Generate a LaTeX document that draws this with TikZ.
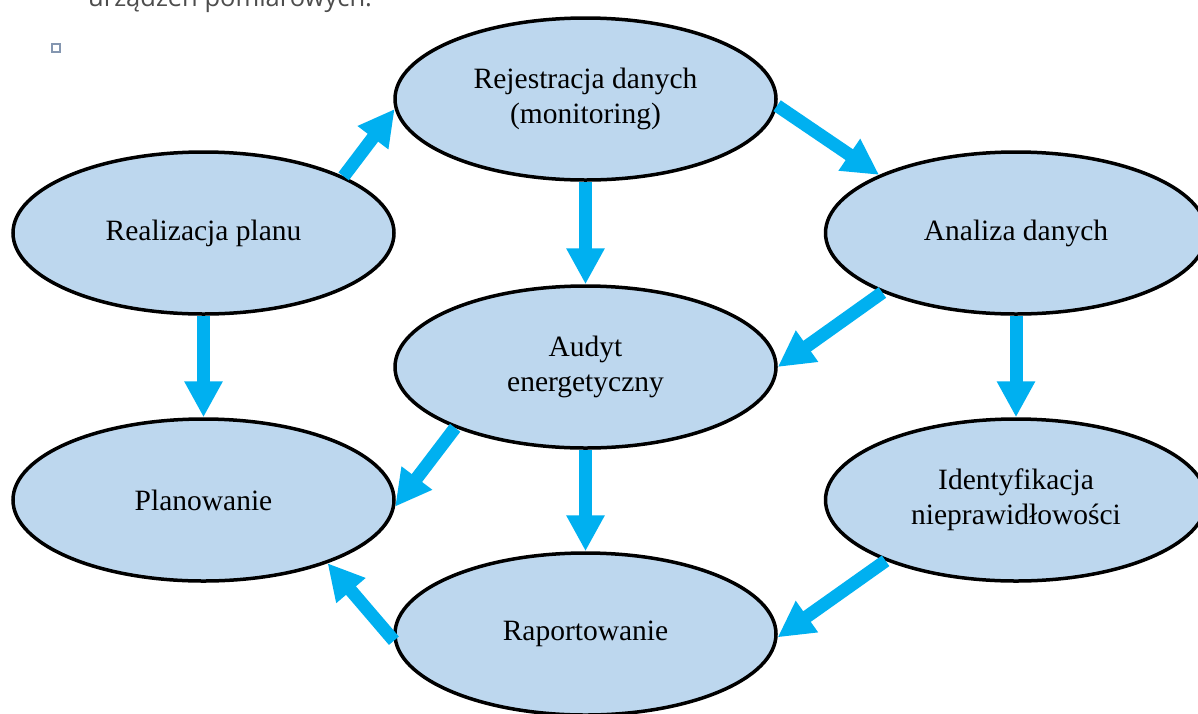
\documentclass[tikz,border=0pt]{standalone}
\usepackage{fontspec}
\setmainfont{Liberation Serif}
\newfontfamily\topfont{Open Sans}
\usetikzlibrary{shapes.geometric,arrows.meta}
\definecolor{ellfill}{HTML}{BDD7EE}
\definecolor{arrowblue}{HTML}{00B0F0}
\definecolor{bulletc}{HTML}{8496B0}
\definecolor{topgray}{HTML}{4D4D4D}
\begin{document}
\begin{tikzpicture}[x=1pt,y=-1pt,
  stage/.style={ellipse, draw=black, line width=3.5pt, fill=ellfill,
    minimum width=381pt, minimum height=162pt, inner sep=0pt,
    align=center, font=\fontsize{29.5}{35}\selectfont, text=black},
  flow/.style={draw=arrowblue, line width=13pt,
    -{Triangle[length=36pt,width=36pt]}}]
\useasboundingbox (0,0) rectangle (1198,713);
\clip (0,0) rectangle (1198,713);
\fill[white] (0,0) rectangle (1198,713);

\node[anchor=base west, text=topgray, font=\topfont\fontsize{25.5}{30}\selectfont, inner sep=0pt] (toptext) at (88,6) {urządzeń pomiarowych.};
\node[draw=bulletc, line width=1.5pt, minimum size=8pt, inner sep=0pt] (bullet) at (56,48) {};

\node[stage] (rej)   at (585.5,99)  {Rejestracja danych\\(monitoring)};
\node[stage] (real)  at (203.5,233) {Realizacja planu};
\node[stage] (ana)   at (1016,233)  {Analiza danych};
\node[stage] (aud)   at (585.5,367) {Audyt\\energetyczny};
\node[stage] (plan)  at (203.5,500) {Planowanie};
\node[stage] (ident) at (1016,500)  {Identyfikacja\\nieprawidłowości};
\node[stage] (rap)   at (585.5,634) {Raportowanie};

\draw[flow] (real.22) -- (rej.183);
\draw[flow] (rej.-2) -- (ana.157);
\draw[flow] (rej.south) -- (aud.north);
\draw[flow] (ana.204) -- (aud.east);
\draw[flow] (ana.south) -- (ident.north);
\draw[flow] (real.south) -- (plan.north);
\draw[flow] (aud.205) -- (plan.-2);
\draw[flow] (aud.south) -- (rap.north);
\draw[flow] (ident.205) -- (rap.-1);
\draw[flow] (rap.182) -- (plan.333);
\end{tikzpicture}
\end{document}
